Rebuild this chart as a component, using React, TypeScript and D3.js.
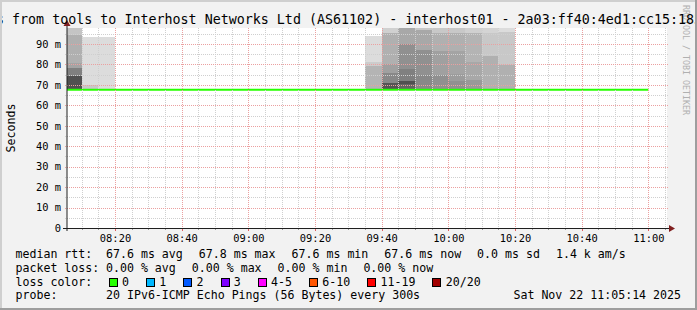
import React from "react";
import * as d3 from "d3";

const W = 697;
const H = 310;
const PLOT = { left: 67, top: 28, width: 600, height: 200 };
const FONT = "'DejaVu Sans Mono', monospace";

// ---- data ----
const titleText =
  "s from tools to Interhost Networks Ltd (AS61102) - interhost01 - 2a03:ff40:4ed1:cc15:185";
const yLabel = "Seconds";
const watermark = "RRDTOOL / TOBI OETIKER";
const startTime = "08:05:36";
const endTime = "11:05:36";
const yMax = 97.83;
const yTicks = [0, 10, 20, 30, 40, 50, 60, 70, 80, 90];
const yMinorTicks = [5, 15, 25, 35, 45, 55, 65, 75, 85, 95];
const timeLabels = ["08:20", "08:40", "09:00", "09:20", "09:40", "10:00", "10:20", "10:40", "11:00"];

// smoke: 5-minute steps, band edges (ms) from top of the smoke down to the median
const smokeStart = ["08:05", "08:10", "08:15", "09:35", "09:40", "09:45", "09:50", "09:55", "10:00", "10:05", "10:10", "10:15"];
const smokeEdges: number[][] = [
  [99, 94.6, 80.6, 78.2, 74.5, 67.6],
  [93.6, 69.9, 67.6],
  [93.6, 67.6],
  [94.1, 81.3, 79.2, 67.6],
  [99, 95.5, 80.1, 75.7, 70.8, 67.6],
  [99, 90.0, 77.6, 71.9, 70.4, 67.6],
  [99, 96.9, 87.1, 74.8, 67.6],
  [99, 95.5, 86.6, 74.8, 67.6],
  [99, 95.4, 86.7, 75.3, 72.0, 67.6],
  [99, 95.2, 81.05, 72.4, 67.6],
  [99, 95.2, 84.3, 67.6],
  [99, 95.7, 79.6, 67.6],
];
// grey level of each band (ping density)
const smokeShade: number[][] = [
  [196, 176, 164, 128, 80],
  [220, 200],
  [220],
  [220, 204, 180],
  [208, 176, 160, 136, 85],
  [168, 144, 128, 80, 100],
  [200, 168, 144, 136],
  [200, 176, 160, 144],
  [200, 176, 164, 156, 144],
  [208, 180, 168, 153],
  [212, 200, 176],
  [220, 200, 176],
];
const medianSeries = [
  { t: "08:05", v: 67.6 },
  { t: "11:00", v: 67.6 },
];

const rttItems = ["67.6 ms avg", "67.8 ms max", "67.6 ms min", "67.6 ms now", "0.0 ms sd", "1.4 k am/s"];
const lossItems = ["0.00 % avg", "0.00 % max", "0.00 % min", "0.00 % now"];
const lossLabels = ["0", "1", "2", "3", "4-5", "6-10", "11-19", "20/20"];
const lossColors = ["#26ff00", "#00b8ff", "#0059ff", "#7e00ff", "#ff00ff", "#ff5500", "#ff0000", "#a10000"];
const probeText = "20 IPv6-ICMP Echo Pings (56 Bytes) every 300s";
const dateText = "Sat Nov 22 11:05:14 2025";

const t = (s: string) => {
  const [h, m, sec] = s.split(":").map(Number);
  return new Date(2025, 10, 22, h, m, sec || 0);
};

export default function App() {
  const x = d3
    .scaleTime()
    .domain([t(startTime), t(endTime)])
    .range([PLOT.left, PLOT.left + PLOT.width]);
  const y = d3
    .scaleLinear()
    .domain([0, yMax])
    .range([PLOT.top + PLOT.height, PLOT.top]);

  const x0 = PLOT.left;
  const x1 = PLOT.left + PLOT.width;
  const yBase = PLOT.top + PLOT.height;

  const minorTimes = d3.timeMinute.every(5)!.range(t(startTime), t(endTime));
  const majorTimes = timeLabels.map((l) => t(l));

  const line = d3
    .line<{ t: string; v: number }>()
    .x((d) => x(t(d.t)))
    .y((d) => y(d.v));

  const gridMinor = "#cfcfcf";
  const gridMajor = "#eba0a0";

  // legend layout
  const charW = 6.98;
  let rx = 106;
  const rttPos = rttItems.map((s) => {
    const p = rx;
    rx += s.length * charW + 16;
    return p;
  });
  let lx = 106;
  const lossPos = lossItems.map((s) => {
    const p = lx;
    lx += s.length * charW + 16;
    return p;
  });
  let bx = 108.7;
  const boxPos = lossLabels.map((s) => {
    const p = bx;
    bx += 13.3 + s.length * charW + 17;
    return p;
  });

  return (
    <svg
      width={W}
      height={H}
      style={{ position: "fixed", left: 0, top: 0, display: "block" }}
      fontFamily={FONT}
    >
      <defs>
        <clipPath id="plotclip">
          <rect x={x0} y={PLOT.top} width={PLOT.width} height={PLOT.height} />
        </clipPath>
      </defs>
      <rect x={0} y={0} width={W} height={H} fill="#f2f2f2" />
      {/* canvas */}
      <rect x={x0} y={PLOT.top} width={PLOT.width} height={PLOT.height} fill="#ffffff" />

      {/* smoke */}
      <g clipPath="url(#plotclip)" shapeRendering="crispEdges">
        {smokeStart.map((s, i) => {
          const xa = x(t(s));
          const xb = x(d3.timeMinute.offset(t(s), 5));
          const edges = smokeEdges[i];
          return smokeShade[i].map((g, j) => (
            <rect
              key={`${i}-${j}`}
              x={xa}
              y={y(edges[j])}
              width={xb - xa}
              height={y(edges[j + 1]) - y(edges[j])}
              fill={`rgb(${g},${g},${g})`}
            />
          ));
        })}
      </g>

      {/* median line */}
      <path
        d={line(medianSeries) || ""}
        clipPath="url(#plotclip)"
        stroke="#26ff00"
        strokeWidth={2}
        fill="none"
      />

      {/* grid */}
      <g shapeRendering="crispEdges">
        {yMinorTicks.map((v) => (
          <line key={`hm${v}`} x1={x0 - 2} x2={x1 + 2} y1={Math.round(y(v)) + 0.5} y2={Math.round(y(v)) + 0.5} stroke={gridMinor} strokeDasharray="1 1" />
        ))}
        {minorTimes.map((d, i) => (
          <g key={`vm${i}`}>
            <line x1={Math.round(x(d)) + 0.5} x2={Math.round(x(d)) + 0.5} y1={PLOT.top} y2={yBase} stroke={gridMinor} strokeDasharray="1 1" />
            <line x1={Math.round(x(d)) + 0.5} x2={Math.round(x(d)) + 0.5} y1={yBase} y2={yBase + 2} stroke="#9a9a9a" />
          </g>
        ))}
        {yTicks.filter((v) => v > 0).map((v) => (
          <line key={`hM${v}`} x1={x0 - 2} x2={x1 + 2} y1={Math.round(y(v)) + 0.5} y2={Math.round(y(v)) + 0.5} stroke={gridMajor} strokeDasharray="1 1" />
        ))}
        {majorTimes.map((d, i) => (
          <g key={`vM${i}`}>
            <line x1={Math.round(x(d)) + 0.5} x2={Math.round(x(d)) + 0.5} y1={PLOT.top} y2={yBase} stroke={gridMajor} strokeDasharray="1 1" />
            <line x1={Math.round(x(d)) + 0.5} x2={Math.round(x(d)) + 0.5} y1={yBase} y2={yBase + 3} stroke="#e06060" />
          </g>
        ))}
      </g>

      {/* axes */}
      <line x1={x0 - 4} x2={x1 + 4} y1={yBase + 0.5} y2={yBase + 0.5} stroke="#1f1f1f" />
      <line x1={x0} x2={x0} y1={yBase + 3} y2={PLOT.top - 5} stroke="#1f1f1f" />
      <path d={`M${x0 - 3.5},${PLOT.top - 2} L${x0 + 3.5},${PLOT.top - 2} L${x0},${PLOT.top - 8} Z`} fill="#801f1f" />
      <path d={`M${x1 + 2},${yBase + 0.5 - 3.5} L${x1 + 2},${yBase + 0.5 + 3.5} L${x1 + 8},${yBase + 0.5} Z`} fill="#801f1f" />

      {/* y labels */}
      {yTicks.map((v) => (
        <text key={`yl${v}`} x={61} y={y(v) + 3.8} fontSize={10.4} textAnchor="end" fill="#000">
          {v === 0 ? "0" : `${v} m`}
        </text>
      ))}
      {/* x labels */}
      {majorTimes.map((d, i) => (
        <text key={`xl${i}`} x={x(d) + 0.5} y={241.5} fontSize={10.4} textAnchor="middle" fill="#000">
          {timeLabels[i]}
        </text>
      ))}

      {/* y axis title */}
      <text transform={`translate(14.5,128) rotate(-90)`} fontSize={11.6} textAnchor="middle" fill="#000">
        {yLabel}
      </text>

      {/* watermark */}
      <text transform={`translate(683.3,5) rotate(90)`} fontSize={8.3} fill="#b0b0b0">
        {watermark}
      </text>

      {/* title */}
      <text x={-4} y={23.5} fontSize={13.33} fill="#000" style={{ whiteSpace: "pre" }}>
        {titleText}
      </text>

      {/* legend */}
      <g fontSize={11.6} fill="#000" style={{ whiteSpace: "pre" }}>
        <text x={15.5} y={258.3}>median rtt:</text>
        {rttItems.map((s, i) => (
          <text key={`r${i}`} x={rttPos[i]} y={258.3}>{s}</text>
        ))}
        <text x={15.5} y={271.8}>packet loss:</text>
        {lossItems.map((s, i) => (
          <text key={`l${i}`} x={lossPos[i]} y={271.8}>{s}</text>
        ))}
        <text x={15.5} y={285.5}>loss color:</text>
        {lossLabels.map((s, i) => (
          <g key={`b${i}`}>
            <rect x={Math.round(boxPos[i]) + 0.5} y={278.5} width={8} height={8} fill={lossColors[i]} stroke="#000" strokeWidth={1} />
            <text x={boxPos[i] + 13.3}>{""}</text>
            <text x={boxPos[i] + 13.3} y={285.5}>{s}</text>
          </g>
        ))}
        <text x={15.5} y={299}>probe:</text>
        <text x={106} y={299}>{probeText}</text>
        <text x={681} y={299} textAnchor="end">{dateText}</text>
      </g>

      {/* frame */}
      <rect x={0} y={0} width={W} height={2} fill="#cfcfcf" />
      <rect x={0} y={0} width={2} height={H} fill="#cfcfcf" />
      <rect x={0} y={H - 2} width={W} height={2} fill="#9e9e9e" />
      <rect x={W - 2} y={0} width={2} height={H} fill="#9e9e9e" />
    </svg>
  );
}
